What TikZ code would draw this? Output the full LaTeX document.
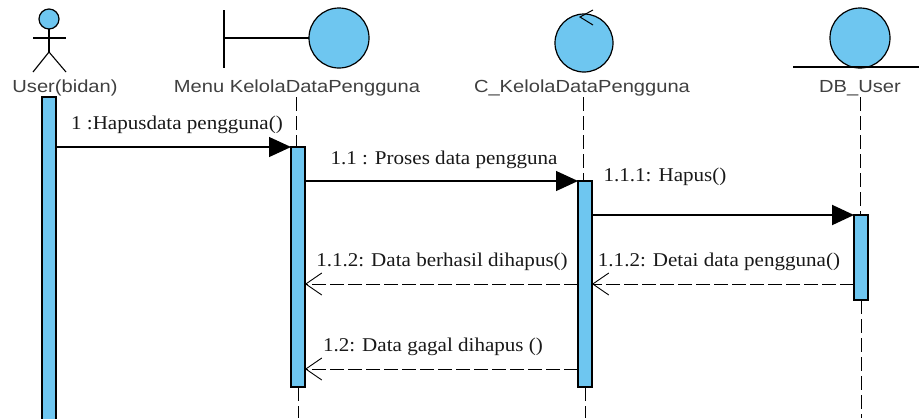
\documentclass[tikz,border=0pt]{standalone}
\usepackage{xcolor}
\usepackage{fontspec}
\usepackage{tikz}
\usetikzlibrary{arrows.meta}
\setmainfont[FakeStretch=1.08]{Liberation Serif}
\newfontfamily\namefont[FakeStretch=1.15]{Liberation Sans}
\definecolor{lifeblue}{HTML}{6EC6F0}
\tikzset{
  bar/.style={draw=black,fill=lifeblue,line width=1.1pt,minimum width=14pt,inner sep=0pt,outer sep=0pt},
  ball/.style={circle,draw=black,fill=lifeblue,line width=1.2pt,inner sep=0pt,outer sep=0pt},
  objname/.style={font=\namefont\fontsize{17.5}{20}\selectfont,text=black!75},
  msg/.style={font=\fontsize{19.5}{22}\selectfont,text=black!90,inner sep=0pt},
  call/.style={draw=black,line width=1.2pt,-{Triangle[length=22pt,width=20pt]}},
  reply/.style={draw=black,line width=0.9pt,dash pattern=on 14pt off 4pt,-{Straight Barb[length=16pt,width=22pt,line width=0.9pt]}},
  life/.style={draw=black,line width=1pt,dash pattern=on 14pt off 5pt}
}
\begin{document}
\begin{tikzpicture}[x=1pt,y=-1pt]
        \clip (0,0) rectangle (919,418);
        % actor
        \node[ball,minimum size=20pt] (head) at (49,19) {};
        \coordinate (armL) at (33,38);
        \coordinate (armR) at (66,38);
        \coordinate (hip) at (49,52);
        \coordinate (footL) at (33,72);
        \coordinate (footR) at (66,72);
        \draw[line width=1.2pt] (head) -- (hip);
        \draw[line width=1.6pt] (armL) -- (armR);
        \draw[line width=1.1pt] (footL) -- (hip) -- (footR);
        % boundary
        \node[ball,minimum size=60pt] (menuball) at (339,38) {};
        \coordinate (menutop) at (224,10);
        \coordinate (menumid) at (224,38);
        \coordinate (menubot) at (224,68);
        \draw[line width=1.2pt] (menutop) -- (menubot);
        \draw[line width=1.5pt] (menumid) -- (menuball);
        % control
        \node[ball,minimum size=58pt] (ctrlball) at (584,43) {};
        \coordinate (ctrlA) at (593,10);
        \coordinate (ctrlB) at (580,17);
        \coordinate (ctrlC) at (593,25);
        \draw[line width=1pt] (ctrlA) -- (ctrlB) -- (ctrlC);
        % entity
        \node[ball,minimum size=60pt] (dbball) at (860,38) {};
        \coordinate (dbL) at (793,67);
        \coordinate (dbR) at (919,67);
        \draw[line width=1.1pt] (dbL) -- (dbR);
        % names
        \begin{scope}[every node/.style={objname}]
          \node (user) at (65,88) {User(bidan)};
          \node (menu) at (297,88) {Menu KelolaDataPengguna};
          \node (ctrl) at (582,88) {C\_KelolaDataPengguna};
          \node (db) at (860,88) {DB\_User};
        \end{scope}
        % activation bars
        \node[bar,anchor=north,minimum height=331pt] (bar1) at (49,97) {};
        \node[bar,anchor=north,minimum height=240pt] (bar2) at (298,147) {};
        \node[bar,anchor=north,minimum height=206pt] (bar3) at (585,181) {};
        \node[bar,anchor=north,minimum height=85pt] (bar4) at (861,215) {};
        % lifelines
        \coordinate (menuend) at (298,418);
        \coordinate (ctrlend) at (585,418);
        \coordinate (dbend) at (861,418);
        \coordinate (menustart) at (296,97);
        \coordinate (ctrlstart) at (583,97);
        \coordinate (dbstart) at (860,97);
        \draw[life] (menustart) -- (bar2.north -| menustart);
        \draw[life] (ctrlstart) -- (bar3.north -| ctrlstart);
        \draw[life] (dbstart) -- (bar4.north -| dbstart);
        \draw[life] (bar2.south) -- (menuend);
        \draw[life] (bar3.south) -- (ctrlend);
        \draw[life] (bar4.south) -- (dbend);
        % messages
        \coordinate (m1) at (0,147);
        \coordinate (m2) at (0,181);
        \coordinate (m3) at (0,215);
        \coordinate (m4) at (0,284);
        \coordinate (m5) at (0,369);
        \path[call] (bar1.east |- m1) -- (bar2.west |- m1);
        \path[call] (bar2.east |- m2) -- (bar3.west |- m2);
        \path[call,line width=2pt] (bar3.east |- m3) -- (bar4.west |- m3);
        \path[reply] (bar4.west |- m4) -- (bar3.east |- m4);
        \path[reply] (bar3.west |- m4) -- (bar2.east |- m4);
        \path[reply] (bar3.west |- m5) -- (bar2.east |- m5);
        \begin{scope}[every node/.style={msg}]
          \node (t1) at (177,125) {1 :Hapusdata pengguna()};
          \node (t2) at (444,160) {1.1 : Proses data pengguna};
          \node (t3) at (665,177) {1.1.1: Hapus()};
          \node (t4) at (719,262) {1.1.2: Detai data pengguna()};
          \node (t5) at (442,262) {1.1.2: Data berhasil dihapus()};
          \node (t6) at (433,347) {1.2: Data gagal dihapus ()};
        \end{scope}
\end{tikzpicture}
\end{document}
